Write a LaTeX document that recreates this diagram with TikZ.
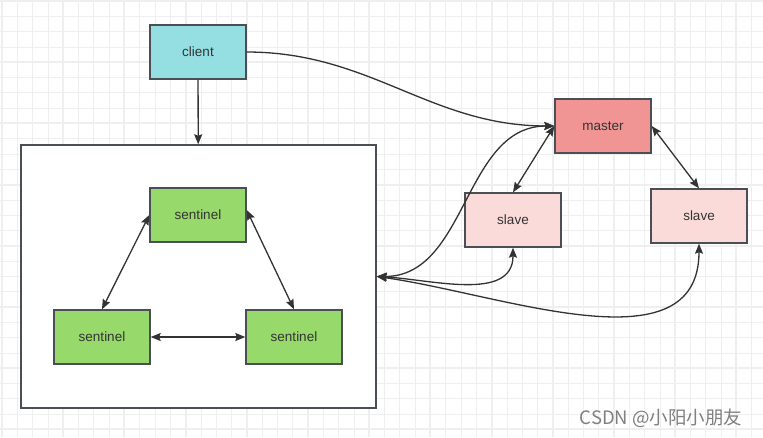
\documentclass[tikz,border=0pt]{standalone}
\usepackage{fontspec}
\setmainfont{Liberation Sans}
\newfontfamily\cjkfont{Noto Sans CJK SC}
\usetikzlibrary{arrows.meta}

\definecolor{clientCyan}{HTML}{95DFE3}
\definecolor{sentinelGreen}{HTML}{97D96A}
\definecolor{masterRed}{HTML}{F19594}
\definecolor{slavePink}{HTML}{FADBDA}
\definecolor{boxLine}{HTML}{4A4F55}
\definecolor{linkGray}{HTML}{333333}
\definecolor{gridGray}{HTML}{EFEFEF}

\tikzset{
  nodeBox/.style = {draw = boxLine, line width = 1.4pt, minimum width = 96pt, minimum height = 54pt, inner sep = 0pt, text = linkGray, font = \fontsize{13.5}{16}\selectfont},
  link/.style = {draw = linkGray, line width = 1.3pt},
  oneWay/.style = {link, -{Stealth[length = 10pt, width = 8pt, inset = 1.5pt]}},
  twoWay/.style = {link, {Stealth[length = 10pt, width = 8pt, inset = 1.5pt]}-{Stealth[length = 10pt, width = 8pt, inset = 1.5pt]}}
}

\begin{document}
\begin{tikzpicture}[x = 1pt, y = 1pt]
  \useasboundingbox (0,0) rectangle (763,-437);
  \fill[white] (0,0) rectangle (763,-437);
  \draw[gridGray, line width = 0.8pt, shift = {(2,-1)}, xstep = 15.3, ystep = 15.3] (-2,1) grid (761,-436);
  \draw[gridGray, line width = 2pt, shift = {(2,-1)}, xstep = 61.2, ystep = 61.2] (-2,1) grid (761,-436);

  \node[nodeBox, fill = clientCyan] (client) at (198,-52) {client};

  \node[draw = boxLine, line width = 1.4pt, fill = white, minimum width = 355pt, minimum height = 263pt, inner sep = 0pt] (sentinelGroup) at (198.5,-276.5) {};

  \node[nodeBox, fill = sentinelGreen] (sentinelTop) at (198,-215) {sentinel};
  \node[nodeBox, fill = sentinelGreen] (sentinelLeft) at (102,-337) {sentinel};
  \node[nodeBox, fill = sentinelGreen] (sentinelRight) at (294,-337) {sentinel};

  \node[nodeBox, fill = masterRed] (master) at (603,-126) {master};
  \node[nodeBox, fill = slavePink] (slave1) at (513,-220) {slave};
  \node[nodeBox, fill = slavePink] (slave2) at (699,-216) {slave};

  \draw[oneWay] (client) -- (sentinelGroup);
  \draw[oneWay] (client.east) to[out = 0, in = 180] (master.west);

  \draw[twoWay] (sentinelTop.west) -- (sentinelLeft.north);
  \draw[twoWay] ([yshift = 5pt]sentinelTop.east) -- (sentinelRight.north);
  \draw[twoWay] (sentinelLeft) -- (sentinelRight);

  \draw[twoWay] (master.west) -- (slave1.north);
  \draw[twoWay] (master.east) -- (slave2.north);

  \draw[twoWay] (sentinelGroup.east) to[out = 0, in = 180] (master.west);
  \draw[twoWay] (sentinelGroup.east) to[out = -3, in = -90] (slave1.south);
  \draw[twoWay] (sentinelGroup.east) to[out = -8, in = -90] (slave2.south);

  \node[text = black!50, font = \cjkfont\fontsize{18.5}{22}\selectfont] (watermark) at (661,-418) {CSDN @小阳小朋友};
\end{tikzpicture}
\end{document}
